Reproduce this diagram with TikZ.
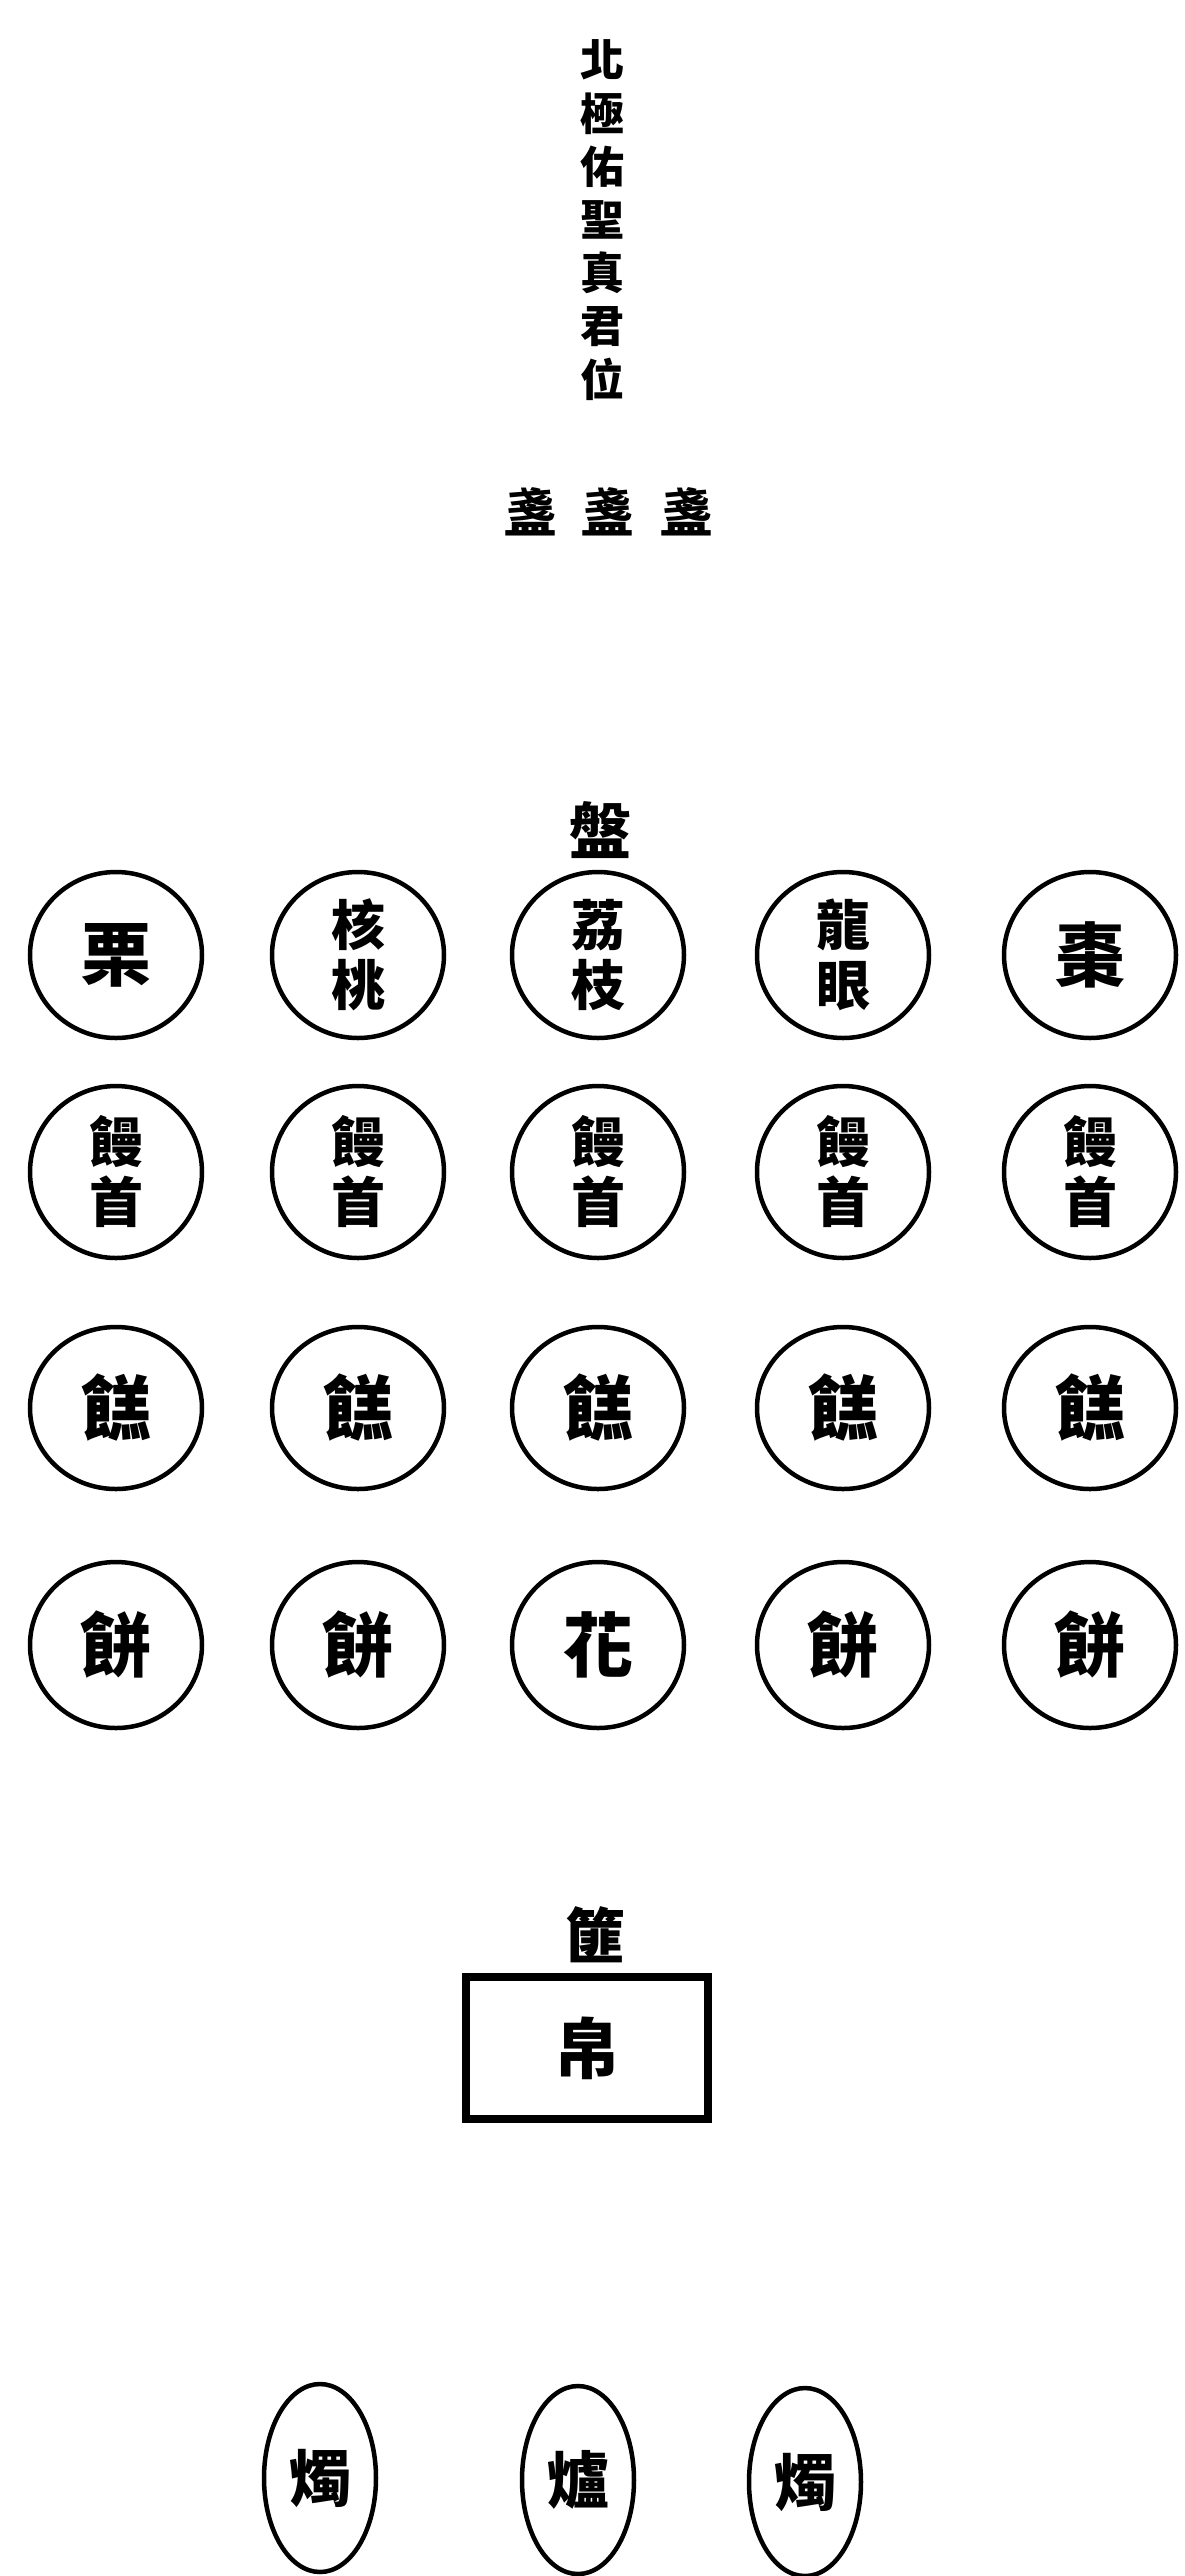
\documentclass[tikz,border=0pt]{standalone}
\usepackage{fontspec}
\usetikzlibrary{shapes.geometric}
\newfontfamily\cjk{Noto Sans CJK TC}
\begin{document}
\begin{tikzpicture}[x=1pt,y=-1pt,
  txt/.style={inner sep=0pt,font=\cjk\bfseries},
  dish/.style={draw,line width=4.5pt,ellipse,minimum width=172pt,minimum height=166pt,inner sep=0pt,align=center},
  oval/.style={draw,line width=4.5pt,ellipse,minimum width=112pt,minimum height=188pt,inner sep=0pt,font=\cjk\bfseries\fontsize{62}{66}\selectfont},
  one/.style={font=\cjk\bfseries\fontsize{70}{76}\selectfont},
  two/.style={font=\cjk\bfseries\fontsize{54}{60}\selectfont},
  cup/.style={txt,font=\cjk\bfseries\fontsize{52}{56}\selectfont}]
\useasboundingbox (0,0) rectangle (1185,2576);
% title
\node[txt,align=center,font=\cjk\bfseries\fontsize{44}{53.2}\selectfont] (title) at (602,220) {北\\極\\佑\\聖\\真\\君\\位};
% cups
\node[cup] (cupA) at (530,512) {盞};
\node[cup] (cupB) at (607,512) {盞};
\node[cup] (cupC) at (686,512) {盞};
% label above middle dish
\node[txt,font=\cjk\bfseries\fontsize{62}{66}\selectfont] (pan) at (600,830) {盤};
% row 1
\node[dish,one] (r1a) at (116,955) {栗};
\node[dish,two] (r1b) at (358,955) {核\\桃};
\node[dish,two] (r1c) at (598,955) {荔\\枝};
\node[dish,two] (r1d) at (843,955) {龍\\眼};
\node[dish,one] (r1e) at (1090,955) {棗};
% row 2
\node[dish,two,minimum height=172pt] (r2a) at (116,1172) {饅\\首};
\node[dish,two,minimum height=172pt] (r2b) at (358,1172) {饅\\首};
\node[dish,two,minimum height=172pt] (r2c) at (598,1172) {饅\\首};
\node[dish,two,minimum height=172pt] (r2d) at (843,1172) {饅\\首};
\node[dish,two,minimum height=172pt] (r2e) at (1090,1172) {饅\\首};
% row 3
\node[dish,one,minimum height=162pt] (r3a) at (116,1408) {餻};
\node[dish,one,minimum height=162pt] (r3b) at (358,1408) {餻};
\node[dish,one,minimum height=162pt] (r3c) at (598,1408) {餻};
\node[dish,one,minimum height=162pt] (r3d) at (843,1408) {餻};
\node[dish,one,minimum height=162pt] (r3e) at (1090,1408) {餻};
% row 4
\node[dish,one,minimum height=166pt] (r4a) at (116,1645) {餅};
\node[dish,one,minimum height=166pt] (r4b) at (358,1645) {餅};
\node[dish,one,minimum height=166pt] (r4c) at (598,1645) {花};
\node[dish,one,minimum height=166pt] (r4d) at (843,1645) {餅};
\node[dish,one,minimum height=166pt] (r4e) at (1090,1645) {餅};
% basket and silk
\node[txt,font=\cjk\bfseries\fontsize{60}{66}\selectfont] (fei) at (595,1935) {篚};
\node[draw,line width=8pt,minimum width=242pt,minimum height=142pt,inner sep=0pt,font=\cjk\bfseries\fontsize{66}{70}\selectfont] (silk) at (587,2048) {帛};
% candles and burner
\node[oval] (candleL) at (320,2478) {燭};
\node[oval] (burner) at (578,2480) {爐};
\node[oval] (candleR) at (805,2482) {燭};
\end{tikzpicture}
\end{document}
